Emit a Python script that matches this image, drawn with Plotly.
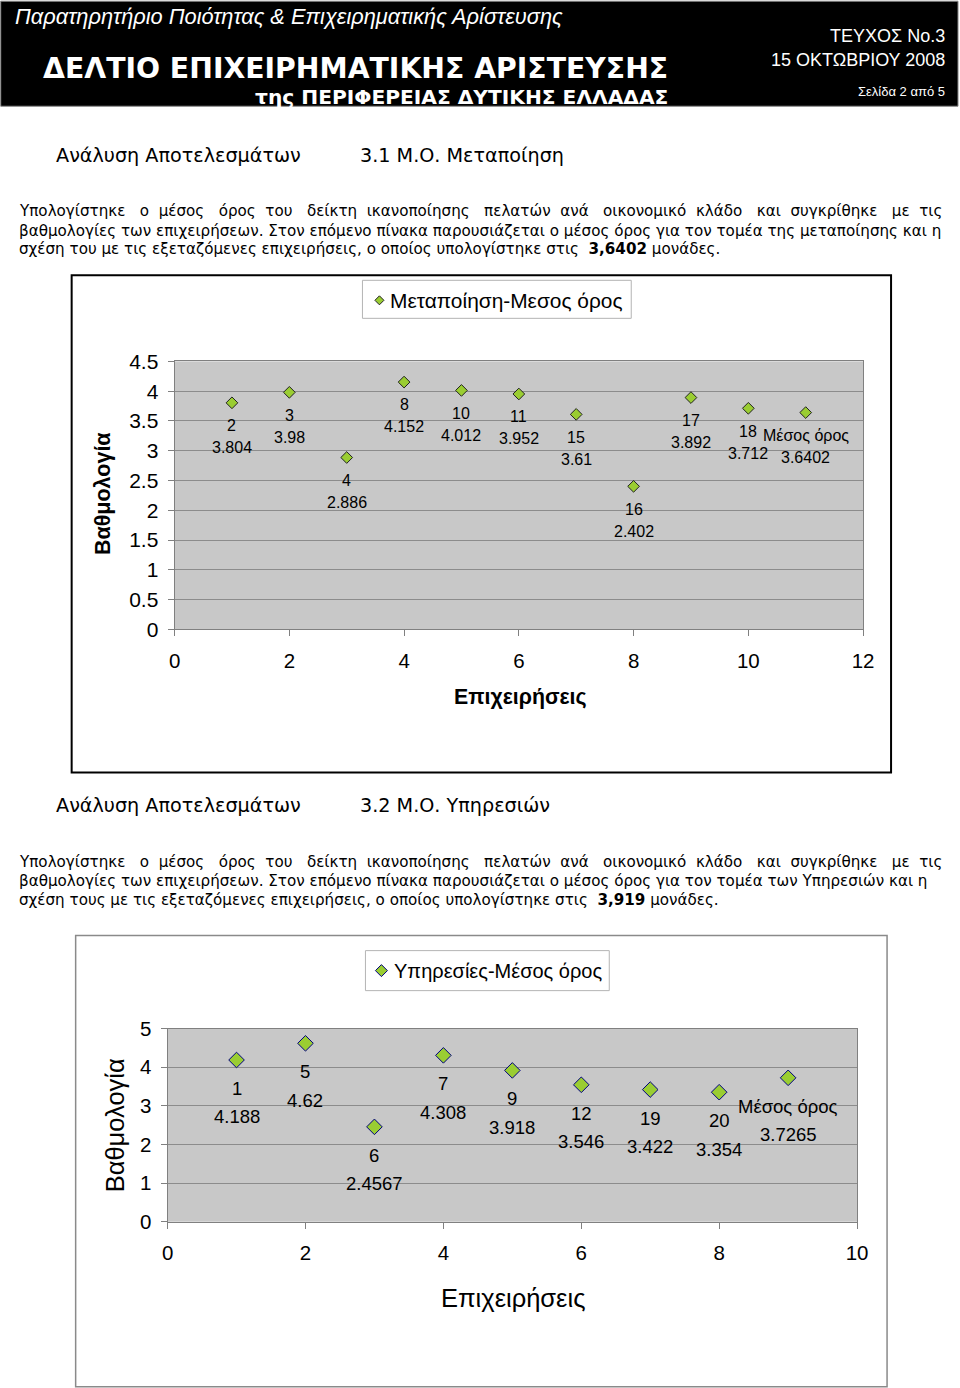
import plotly.graph_objects as go

W, H = 960, 1388

# ---------------- data ----------------
manuf_x = [1, 2, 3, 4, 5, 6, 7, 8, 9, 10, 11]
manuf_y = [3.804, 3.98, 2.886, 4.152, 4.012, 3.952, 3.61, 2.402, 3.892, 3.712, 3.6402]
manuf_labels = ["2", "3", "4", "8", "10", "11", "15", "16", "17", "18", "Μέσος όρος"]

serv_x = [1, 2, 3, 4, 5, 6, 7, 8, 9]
serv_y = [4.188, 4.62, 2.4567, 4.308, 3.918, 3.546, 3.422, 3.354, 3.7265]
serv_labels = ["1", "5", "6", "7", "9", "12", "19", "20", "Μέσος όρος"]

manuf_name = "Μεταποίηση-Μεσος όρος"
serv_name = "Υπηρεσίες-Μέσος όρος"
x_title = "Επιχειρήσεις"
y_title = "Βαθμολογία"

# page-pixel -> paper mapping (compensates the capture's slight scale/offset)
OFFX, OFFY, S = 6.3, 11.8, 0.983


def px(x):
    return (x - OFFX) / S / W


def py(y):
    return 1 - (y - OFFY) / S / H


ARIAL = "Liberation Sans, Arial, sans-serif"
BODY = "DejaVu Sans, Verdana, sans-serif"
GREEN = "#9acd32"

fig = go.Figure()

fig.add_trace(go.Scatter(
    x=manuf_x, y=manuf_y, mode="markers", name=manuf_name,
    marker=dict(symbol="diamond", size=9, color=GREEN, line=dict(color="#222222", width=1)),
    xaxis="x", yaxis="y", showlegend=False, hoverinfo="skip",
))
fig.add_trace(go.Scatter(
    x=serv_x, y=serv_y, mode="markers", name=serv_name,
    marker=dict(symbol="diamond", size=12, color=GREEN, line=dict(color="#000080", width=1)),
    xaxis="x2", yaxis="y2", showlegend=False, hoverinfo="skip",
))

ann = []
# point labels (anchored to data coords): name line and value line
for xv, yv, lb in zip(manuf_x, manuf_y, manuf_labels):
    for s, sh in ((lb, 22.5), (f"{yv:g}", 44)):
        ann.append(dict(x=xv, y=yv, xref="x", yref="y", text=s,
                        showarrow=False, yanchor="middle", yshift=-sh / S, borderpad=0,
                        font=dict(family=ARIAL, size=16, color="black")))
for xv, yv, lb in zip(serv_x, serv_y, serv_labels):
    for s, sh in ((lb, 28), (f"{yv:g}", 56)):
        ann.append(dict(x=xv, y=yv, xref="x2", yref="y2", text=s,
                        showarrow=False, yanchor="middle", yshift=-sh / S, borderpad=0,
                        font=dict(family=ARIAL, size=18.5, color="black")))


def txt(x, y, s, size, family=BODY, color="black", xanchor="left", **kw):
    ann.append(dict(x=px(x), y=py(y), xref="paper", yref="paper", text=s,
                    showarrow=False, xanchor=xanchor, yanchor="middle", borderpad=0,
                    font=dict(family=family, size=size, color=color), **kw))


# header
txt(14, 16, "<i>Παρατηρητήριο Ποιότητας &amp; Επιχειρηματικής Αρίστευσης</i>", 21.8, ARIAL, "white")
txt(670, 68.5, "<b>ΔΕΛΤΙΟ ΕΠΙΧΕΙΡΗΜΑΤΙΚΗΣ ΑΡΙΣΤΕΥΣΗΣ</b>", 28.3, BODY, "white", xanchor="right")
txt(670, 96.5, "<b>της ΠΕΡΙΦΕΡΕΙΑΣ ΔΥΤΙΚΗΣ ΕΛΛΑΔΑΣ</b>", 20.2, BODY, "white", xanchor="right")
txt(947, 36, "ΤΕΥΧΟΣ No.3", 18, ARIAL, "white", xanchor="right")
txt(947, 60, "15 ΟΚΤΩΒΡΙΟΥ 2008", 18, ARIAL, "white", xanchor="right")
txt(947, 91, "Σελίδα 2 από 5", 13, ARIAL, "white", xanchor="right")


def justify(line):
    words = line.split()
    out = words[0]
    for i, w in enumerate(words[1:]):
        out += (" \u00a0\u00a0" if i % 2 == 0 else " \u00a0") + w
    return out


PS = 15.15
HS = 19.2
l1 = justify("Υπολογίστηκε ο μέσος όρος του δείκτη ικανοποίησης πελατών ανά οικονομικό κλάδο και συγκρίθηκε με τις")
# section 1
txt(55, 155, "Ανάλυση Αποτελεσμάτων", HS)
txt(360, 155, "3.1 Μ.Ο. Μεταποίηση", HS)
txt(18, 211, l1, PS)
txt(18, 231, "βαθμολογίες των επιχειρήσεων. Στον επόμενο πίνακα παρουσιάζεται ο μέσος όρος για τον τομέα της μεταποίησης και η", PS)
txt(18, 249, "σχέση του με τις εξεταζόμενες επιχειρήσεις, ο οποίος υπολογίστηκε στις  <b>3,6402</b> μονάδες.", PS)

# section 2
txt(55, 805, "Ανάλυση Αποτελεσμάτων", HS)
txt(360, 805, "3.2 Μ.Ο. Υπηρεσιών", HS)
txt(18, 861, l1, PS)
txt(18, 880, "βαθμολογίες των επιχειρήσεων. Στον επόμενο πίνακα παρουσιάζεται ο μέσος όρος για τον τομέα των Υπηρεσιών και η", PS)
txt(18, 899, "σχέση τους με τις εξεταζόμενες επιχειρήσεις, ο οποίος υπολογίστηκε στις  <b>3,919</b> μονάδες.", PS)

# axis titles
txt(521, 697, f"<b>{x_title}</b>", 21.3, ARIAL, xanchor="center")
ann.append(dict(x=px(104), y=py(493), xref="paper", yref="paper", text=f"<b>{y_title}</b>",
                showarrow=False, textangle=-90, xanchor="center", yanchor="middle", borderpad=0,
                font=dict(family=ARIAL, size=21.5, color="black")))
txt(514, 1297, x_title, 25.5, ARIAL, xanchor="center")
ann.append(dict(x=px(115), y=py(1125), xref="paper", yref="paper", text=y_title,
                showarrow=False, textangle=-90, xanchor="center", yanchor="middle", borderpad=0,
                font=dict(family=ARIAL, size=25.5, color="black")))

# legend boxes (drawn)
txt(390, 300, manuf_name, 20.9, ARIAL)
txt(394, 970, serv_name, 20, ARIAL)


def diamond(cx, cy, r):
    return (f"M {px(cx - r)},{py(cy)} L {px(cx)},{py(cy - r)} "
            f"L {px(cx + r)},{py(cy)} L {px(cx)},{py(cy + r)} Z")


shapes = [
    dict(type="rect", xref="paper", yref="paper", x0=px(1), x1=px(959), y0=py(106), y1=py(1),
         fillcolor="black", line=dict(color="#888888", width=1), layer="below"),
    dict(type="rect", xref="paper", yref="paper", x0=px(72), x1=px(892), y0=py(772), y1=py(275),
         line=dict(color="black", width=2)),
    dict(type="rect", xref="paper", yref="paper", x0=px(76), x1=px(888), y0=py(1386), y1=py(935),
         line=dict(color="#8a8a8a", width=1.5)),
    dict(type="rect", xref="paper", yref="paper", x0=px(363), x1=px(632), y0=py(318), y1=py(280),
         fillcolor="white", line=dict(color="#b4b4b4", width=1)),
    dict(type="rect", xref="paper", yref="paper", x0=px(366), x1=px(610), y0=py(990), y1=py(950),
         fillcolor="white", line=dict(color="#b4b4b4", width=1)),
    dict(type="path", xref="paper", yref="paper", path=diamond(380, 300, 4.5),
         fillcolor=GREEN, line=dict(color="#222222", width=1)),
    dict(type="path", xref="paper", yref="paper", path=diamond(382, 970, 6),
         fillcolor=GREEN, line=dict(color="#000080", width=1)),
]

axis_common = dict(showline=True, linecolor="#808080", linewidth=1, mirror=True,
                   ticks="outside", tickcolor="#808080", zeroline=False)

fig.update_layout(
    width=W, height=H, margin=dict(l=0, r=0, t=0, b=0),
    paper_bgcolor="white", plot_bgcolor="#c8c8c8",
    xaxis=dict(domain=[px(175), px(864)], range=[0, 12], dtick=2, showgrid=False,
               ticklen=6, ticklabelstandoff=7, anchor="y",
               tickfont=dict(family=ARIAL, size=20.5, color="black"), **axis_common),
    yaxis=dict(domain=[py(629), py(361)], range=[0, 4.5], dtick=0.5, showgrid=True,
               gridcolor="#8c8c8c", ticklen=6, ticklabelstandoff=5, anchor="x",
               tickfont=dict(family=ARIAL, size=21, color="black"), **axis_common),
    xaxis2=dict(domain=[px(168), px(858)], range=[0, 10], dtick=2, showgrid=False,
                ticklen=6, ticklabelstandoff=7, anchor="y2",
                tickfont=dict(family=ARIAL, size=20.5, color="black"), **axis_common),
    yaxis2=dict(domain=[py(1221), py(1028)], range=[0, 5], dtick=1, showgrid=True,
                gridcolor="#8c8c8c", ticklen=6, ticklabelstandoff=5, anchor="x2",
                tickfont=dict(family=ARIAL, size=20.5, color="black"), **axis_common),
    annotations=ann, shapes=shapes,
)

fig.write_html(
    "out.html",
    config={"displayModeBar": False},
    post_script="document.body.style.margin='0';document.body.style.padding='0';"
                "document.documentElement.style.overflow='hidden';",
)
